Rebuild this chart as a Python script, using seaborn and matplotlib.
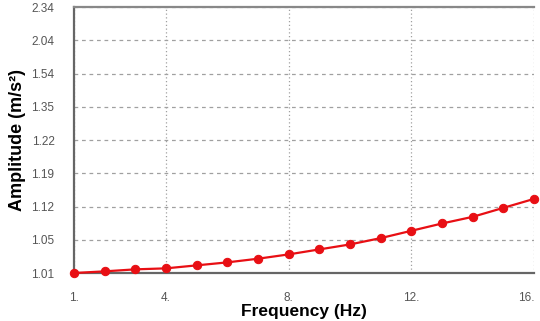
import numpy as np
import pandas as pd
import seaborn as sns
import matplotlib.pyplot as plt

# frequency (Hz) and amplitude (m/s^2)
frequency = [1, 2, 3, 4, 5, 6, 7, 8, 9, 10, 11, 12, 13, 14, 15, 16]
amplitude = [1.010, 1.012, 1.0144, 1.0156, 1.0192, 1.0228, 1.0272, 1.0324,
             1.0384, 1.0444, 1.0535, 1.0689, 1.0843, 1.0983, 1.1172, 1.1361]

# y axis is drawn with equally spaced (non-linear) tick values
y_ticks = [1.01, 1.05, 1.12, 1.19, 1.22, 1.35, 1.54, 2.04, 2.34]
y_tick_labels = ["1.01", "1.05", "1.12", "1.19", "1.22", "1.35", "1.54", "2.04", "2.34"]
x_ticks = [1, 4, 8, 12, 16]
x_tick_labels = ["1.", "4.", "8.", "12.", "16."]

df = pd.DataFrame({"Frequency": frequency, "Amplitude": amplitude})

sns.set_style("white")
plt.rcParams["font.family"] = ["Liberation Sans", "DejaVu Sans"]

fig = plt.figure(figsize=(5.4, 3.21), dpi=100)
ax = fig.add_axes([0.137, 0.1495, 0.852, 0.8285])

pos = np.arange(len(y_ticks))
fwd = lambda v: np.interp(v, y_ticks, pos)
inv = lambda p: np.interp(p, pos, y_ticks)
ax.set_yscale("function", functions=(fwd, inv))

sns.lineplot(data=df, x="Frequency", y="Amplitude", ax=ax, color="#e80f14",
             linewidth=1.6, marker="o", markersize=6, markeredgecolor="#e80f14",
             clip_on=False, zorder=5)

ax.set_xlim(1, 16)
ax.set_ylim(y_ticks[0], y_ticks[-1])
ax.set_xticks(x_ticks)
ax.set_xticklabels(x_tick_labels)
ax.set_yticks(y_ticks)
ax.set_yticklabels(y_tick_labels)
ax.minorticks_off()
# last label sits against the right edge
ax.get_xticklabels()[-1].set_horizontalalignment("right")

ax.grid(axis="y", color="#a0a0a0", linestyle=(0, (3, 3)), linewidth=0.9)
ax.grid(axis="x", color="#a0a0a0", linestyle=(0, (1, 2)), linewidth=0.9)

# dashed tick marks that continue the grid lines outside the frame
for t in ax.yaxis.get_major_ticks():
    t.tick1line.set_linestyle((0, (3, 3)))
for t in ax.xaxis.get_major_ticks():
    t.tick1line.set_linestyle((0, (1, 2)))
ax.tick_params(axis="y", length=10, width=0.9, color="#a0a0a0", labelsize=8.5,
               labelcolor="#555555", pad=4)
ax.tick_params(axis="x", length=6, width=0.9, color="#a0a0a0", labelsize=8.5,
               labelcolor="#555555", pad=8)

for side in ["left", "bottom", "top"]:
    ax.spines[side].set_visible(True)
    ax.spines[side].set_color("#666666")
    ax.spines[side].set_linewidth(1.6)
ax.spines["top"].set_color("#888888")
ax.spines["right"].set_visible(False)

ax.set_xlabel("Frequency (Hz)", fontsize=12.5, fontweight="bold", labelpad=0,
              color="black")
ax.set_ylabel("Amplitude (m/s²)", fontsize=13, fontweight="bold", labelpad=4,
              color="black")

fig.savefig("out.png", dpi=100)
